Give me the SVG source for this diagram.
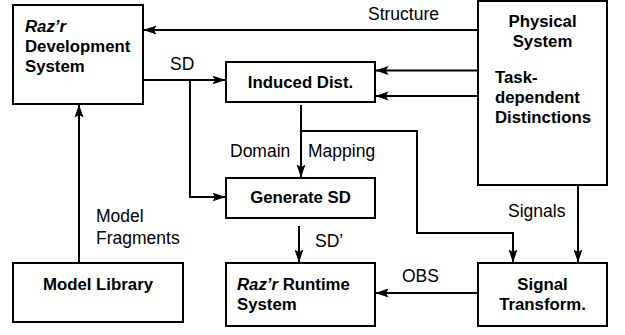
<svg xmlns="http://www.w3.org/2000/svg" width="625" height="335" viewBox="0 0 625 335">
  <style>
    .box { fill: #fff; stroke: #000; stroke-width: 2; }
    .wire { fill: none; stroke: #000; stroke-width: 2; }
    .t { font-family: "Liberation Sans", Arial, sans-serif; font-size: 17.5px; fill: #000; }
    .b { font-weight: bold; font-size: 16.8px; }
    .i { font-style: italic; }
    .c { text-anchor: middle; }
  </style>
  <defs>
    <marker id="arrow" viewBox="0 0 13 10" refX="12.5" refY="5" markerWidth="13" markerHeight="10" markerUnits="userSpaceOnUse" orient="auto">
      <path d="M0,0.5 L13,5 L0,9.5 L2.5,5 z" fill="#000"/>
    </marker>
  </defs>

  <rect width="625" height="335" fill="#fff"/>

  <!-- connectors -->
  <g id="connectors" class="wire">
    <path d="M478,30 H144" marker-end="url(#arrow)"/>
    <path d="M478,70.5 H376" marker-end="url(#arrow)"/>
    <path d="M478,96 H376" marker-end="url(#arrow)"/>
    <path d="M143,80 H225" marker-end="url(#arrow)"/>
    <path d="M190,80 V197 H225" marker-end="url(#arrow)"/>
    <path d="M301,105 V177" marker-end="url(#arrow)"/>
    <path d="M301,131 H417 V233 H513 V262" marker-end="url(#arrow)"/>
    <path d="M578,185 V262" marker-end="url(#arrow)"/>
    <path d="M299,226 V262" marker-end="url(#arrow)"/>
    <path d="M478,293 H376" marker-end="url(#arrow)"/>
    <path d="M79,263 V105" marker-end="url(#arrow)"/>
  </g>

  <!-- connector labels -->
  <g id="labels" class="t">
    <text x="368" y="20">Structure</text>
    <text x="170" y="70">SD</text>
    <text x="230" y="157">Domain</text>
    <text x="308" y="157">Mapping</text>
    <text x="96" y="222">Model</text>
    <text x="96" y="244">Fragments</text>
    <text x="315" y="247">SD’</text>
    <text x="508" y="217">Signals</text>
    <text x="402" y="282">OBS</text>
  </g>

  <g id="dev-system">
    <rect class="box" x="13" y="5" width="130" height="99"/>
    <text class="t b i" x="25" y="32">Raz’r</text>
    <text class="t b" x="25" y="52">Development</text>
    <text class="t b" x="25" y="72">System</text>
  </g>

  <g id="induced-dist">
    <rect class="box" x="226" y="62" width="149" height="40"/>
    <text class="t b c" x="300.5" y="88">Induced Dist.</text>
  </g>

  <g id="physical-system">
    <rect class="box" x="478" y="1" width="129" height="184"/>
    <text class="t b c" x="542.5" y="27">Physical</text>
    <text class="t b c" x="542.5" y="47">System</text>
    <text class="t b" x="495" y="83">Task-</text>
    <text class="t b" x="495" y="103">dependent</text>
    <text class="t b" x="495" y="123">Distinctions</text>
  </g>

  <g id="generate-sd">
    <rect class="box" x="226" y="178" width="149" height="40"/>
    <text class="t b c" x="300.5" y="203">Generate SD</text>
  </g>

  <g id="model-library">
    <rect class="box" x="13" y="263" width="170" height="59"/>
    <text class="t b c" x="98" y="290">Model Library</text>
  </g>

  <g id="runtime-system">
    <rect class="box" x="226" y="263" width="149" height="63"/>
    <text class="t b" x="237" y="290"><tspan class="i">Raz’r</tspan> Runtime</text>
    <text class="t b" x="237" y="310">System</text>
  </g>

  <g id="signal-transform">
    <rect class="box" x="478" y="263" width="129" height="63"/>
    <text class="t b c" x="542.5" y="290">Signal</text>
    <text class="t b c" x="542.5" y="310">Transform.</text>
  </g>
</svg>
